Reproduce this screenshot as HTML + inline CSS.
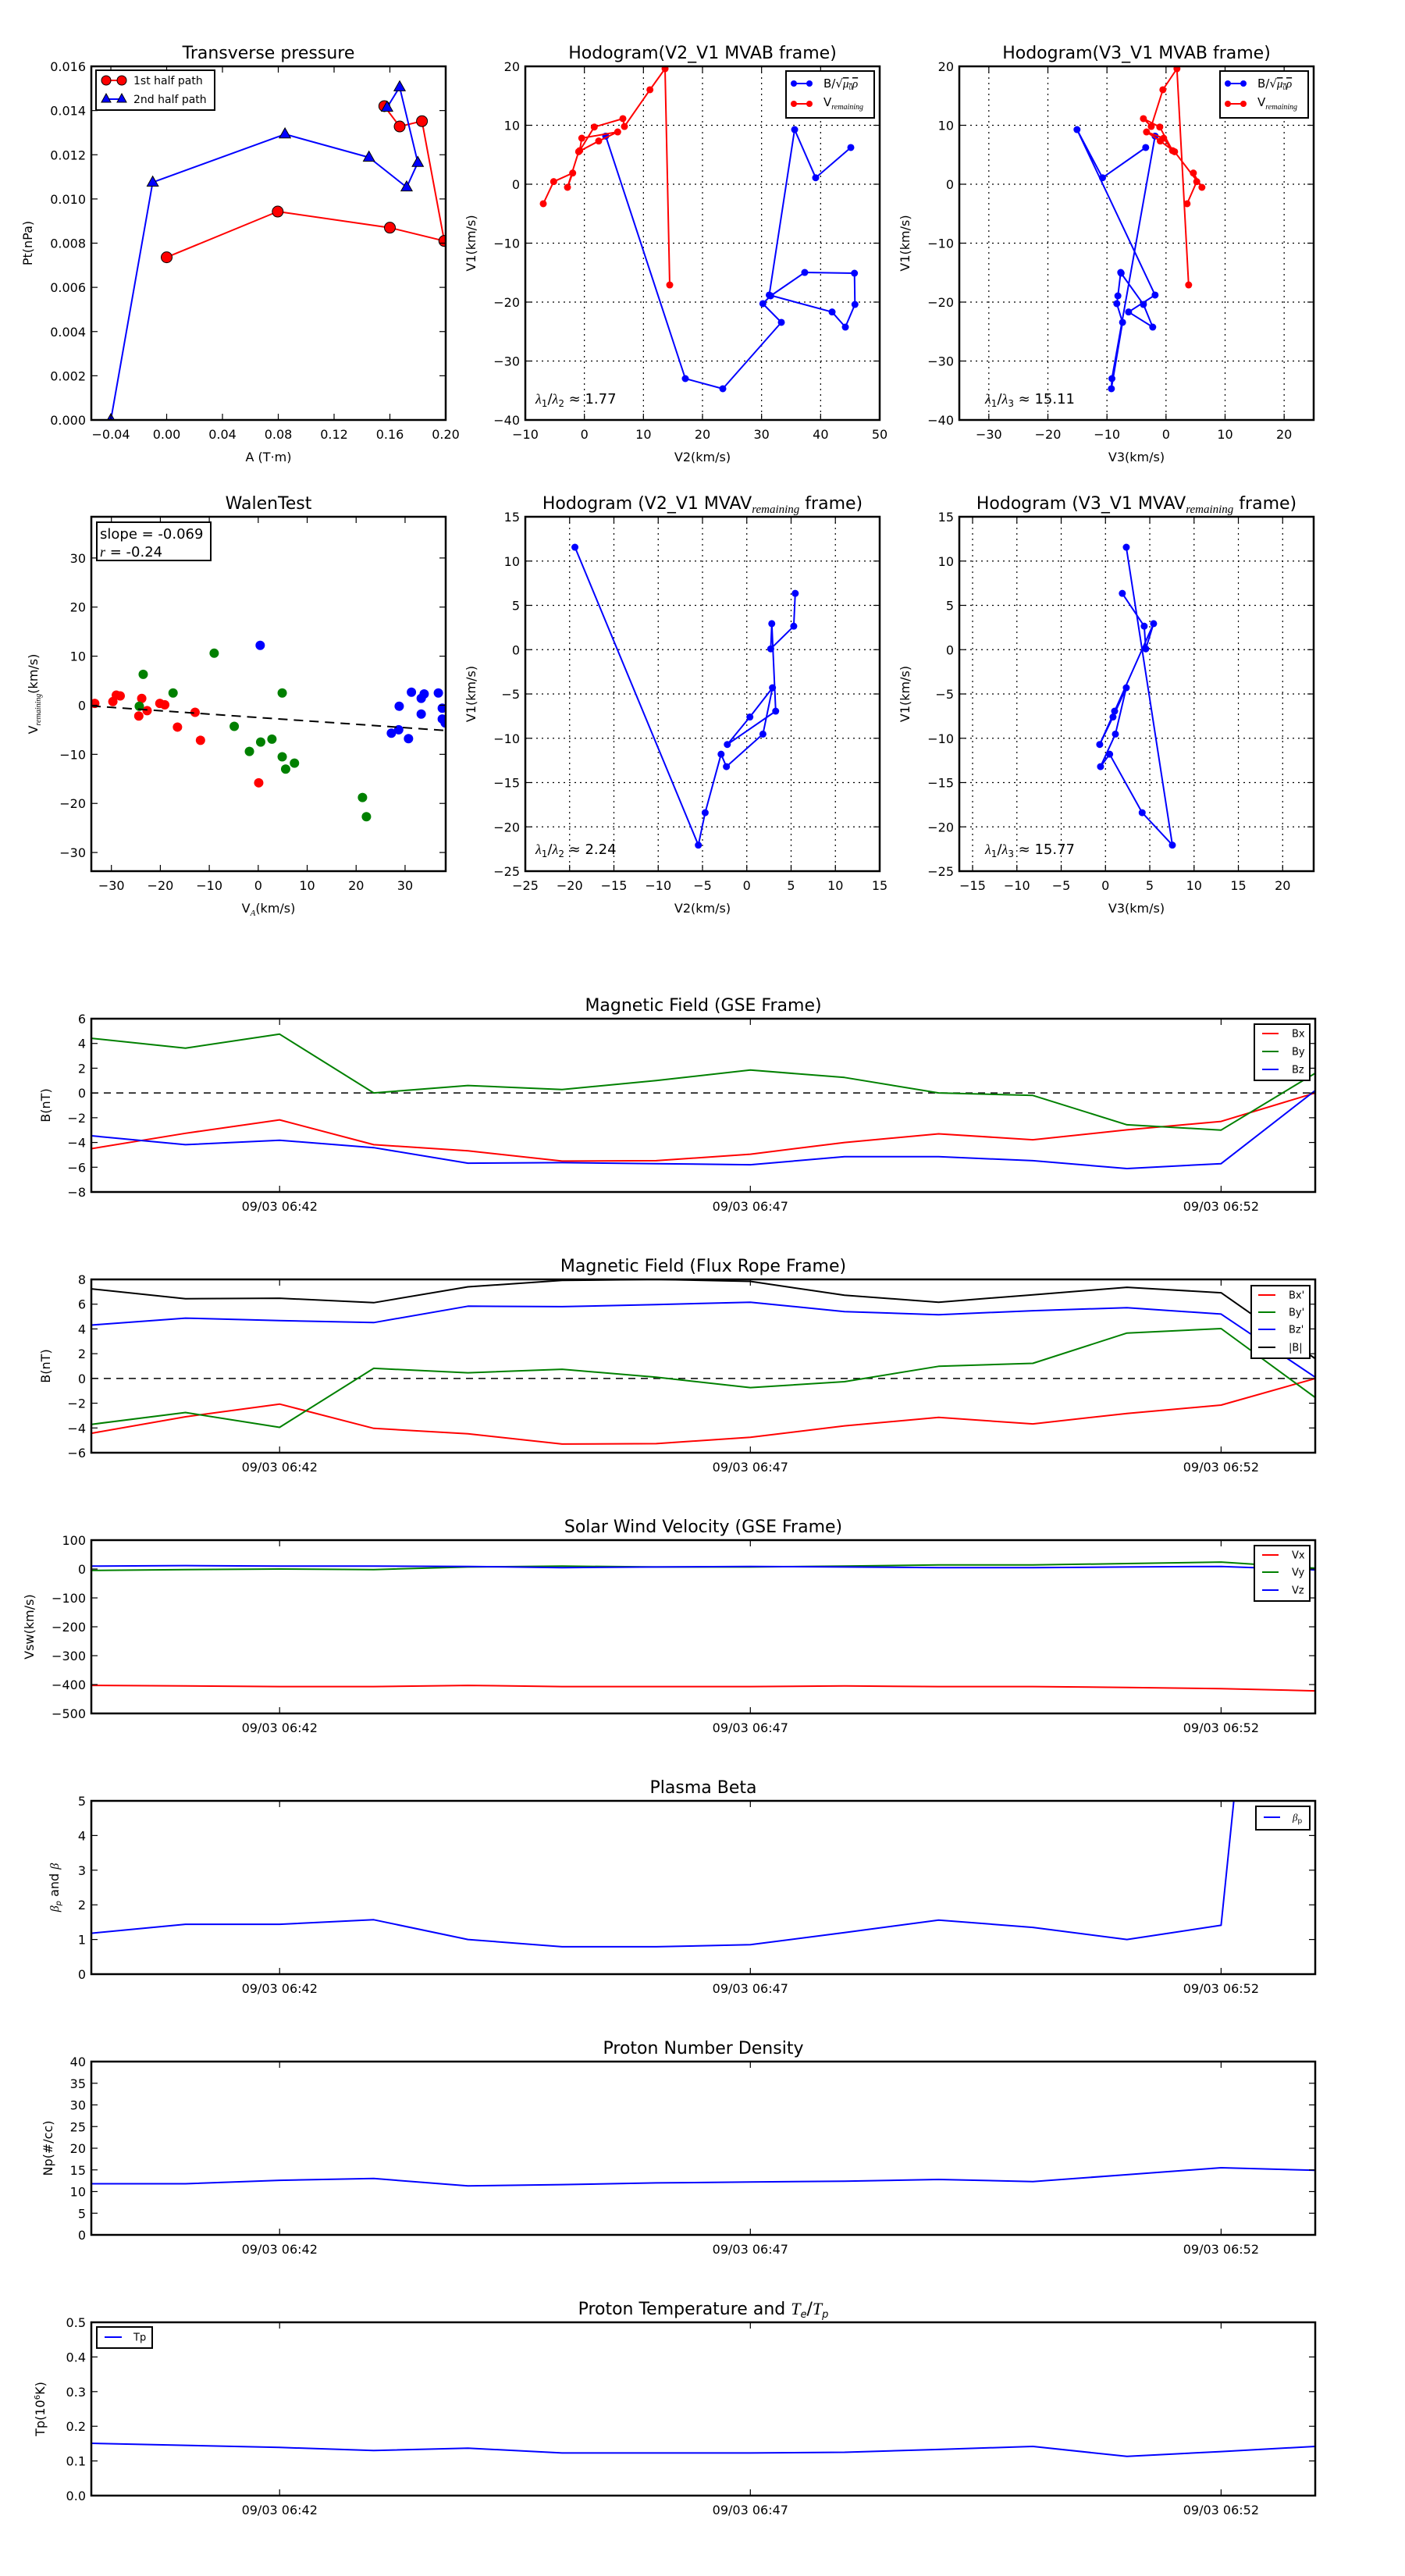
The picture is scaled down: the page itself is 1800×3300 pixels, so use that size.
<!DOCTYPE html>
<html><head><meta charset="utf-8"><title>Flux rope analysis</title>
<style>
html,body{margin:0;padding:0;background:#fff;}
svg{display:block;}
text{font-family:"DejaVu Sans","Liberation Sans",sans-serif;fill:#000;}
</style></head>
<body>
<svg id="fig" xmlns="http://www.w3.org/2000/svg" width="1800" height="3300" viewBox="0 0 1800 3300">
<rect x="0" y="0" width="1800" height="3300" fill="#fff"/>
</svg>
<script>
// ---------- Data ----------
// Transverse pressure
const ptRedA = [0.0, 0.0796, 0.1600, 0.1990, 0.1830, 0.1670, 0.1560];
const ptRedP = [0.00736, 0.00943, 0.00870, 0.00810, 0.01352, 0.01328, 0.01420];
const ptBlueA = [-0.040, -0.010, 0.0848, 0.1450, 0.1720, 0.1800, 0.1670, 0.1580];
const ptBlueP = [0.0, 0.01075, 0.01293, 0.01188, 0.01053, 0.01164, 0.01506, 0.01414];
// Hodogram MVAB
const hbV2 = [3.61, 17.09, 23.44, 33.35, 30.22, 31.54, 37.31, 45.73, 45.81, 44.19, 41.94, 31.3, 35.6, 39.16, 45.11];
const hbV1 = [8.17, -32.98, -34.7, -23.44, -20.26, -18.94, -14.97, -15.1, -20.4, -24.24, -21.68, -18.8, 9.27, 1.1, 6.23];
const hbV3 = [-1.85, -9.16, -9.25, -7.36, -8.33, -8.15, -7.67, -7.6, -3.83, -2.25, -6.34, -1.85, -15.07, -10.75, -3.44];
const hrV2 = [-6.96, -5.2, -1.98, -2.86, -0.97, 2.42, 5.64, -0.44, -0.79, 1.67, 6.52, 6.78, 11.1, 13.66, 14.45];
const hrV1 = [-3.31, 0.44, 1.9, -0.53, 5.52, 7.33, 8.87, 7.81, 5.7, 9.71, 11.13, 9.8, 16.03, 19.6, -17.09];
const hrV3 = [3.57, 5.2, 4.63, 6.08, 1.45, -0.97, -3.3, -0.4, 1.1, -1.06, -3.83, -2.5, -0.53, 1.85, 3.83];
// Walen test
const wRedX = [-33.4, -29.7, -29.0, -28.2, -23.8, -24.4, -22.7, -20.1, -19.1, -16.5, -12.9, -11.8, 0.1];
const wRedY = [0.37, 0.74, 2.07, 1.9, 1.38, -2.2, -1.1, 0.37, 0.1, -4.45, -1.43, -7.15, -15.8];
const wGreenX = [-23.5, -24.3, -17.4, -9.0, -4.9, -1.8, 0.5, 2.8, 4.9, 4.9, 5.6, 7.4, 21.3, 22.1];
const wGreenY = [6.3, -0.2, 2.5, 10.6, -4.3, -9.4, -7.5, -6.9, 2.5, -10.5, -13.0, -11.8, -18.8, -22.7];
const wBlueX = [0.4, 27.2, 28.7, 28.8, 30.7, 31.3, 33.3, 33.3, 33.9, 36.8, 37.6, 37.6, 38.2];
const wBlueY = [12.2, -5.7, -5.0, -0.2, -6.8, 2.65, 1.4, -1.8, 2.3, 2.5, -0.6, -2.8, -3.6];
const wSlope = -0.069;
const wIntercept = -2.5;
// Hodogram MVAV
const mvV2 = [-19.4, -5.47, -4.7, -2.9, -2.3, 1.82, 2.9, 0.35, -2.2, 3.26, 2.82, 2.7, 5.3, 5.47];
const mvV1 = [11.56, -22.06, -18.4, -11.8, -13.2, -9.53, -4.3, -7.6, -10.7, -6.94, 2.94, 0.09, 2.65, 6.35];
const mvV3 = [2.35, 7.55, 4.14, 0.47, -0.56, 1.12, 2.35, 0.85, -0.65, 1.03, 5.43, 4.55, 4.37, 1.9];
// Time series (minutes after 06:40)
const tMin = [0,1,2,3,4,5,6,7,8,9,10,11,12,13];
const timeTickPos = [2, 7, 12];
const timeTickLabels = ["09/03 06:42", "09/03 06:47", "09/03 06:52"];
const gseBx = [-4.5,-3.26,-2.17,-4.18,-4.67,-5.5,-5.47,-4.95,-4.0,-3.3,-3.78,-2.98,-2.3,0.0];
const gseBy = [4.42,3.62,4.75,0.0,0.6,0.28,1.0,1.85,1.25,0.0,-0.2,-2.57,-3.0,1.6];
const gseBz = [-3.46,-4.18,-3.82,-4.42,-5.67,-5.63,-5.71,-5.8,-5.15,-5.15,-5.47,-6.11,-5.71,0.2];
const frBx = [-4.43,-3.1,-2.07,-4.03,-4.47,-5.3,-5.27,-4.75,-3.83,-3.15,-3.67,-2.83,-2.15,0.0];
const frBy = [-3.71,-2.75,-3.95,0.82,0.46,0.74,0.1,-0.74,-0.26,0.98,1.22,3.67,4.03,-1.54];
const frBz = [4.31,4.87,4.67,4.51,5.84,5.8,5.96,6.16,5.4,5.15,5.47,5.72,5.2,0.1];
const frBt = [7.24,6.44,6.48,6.12,7.4,7.92,8.0,7.84,6.72,6.16,6.76,7.36,6.92,1.6];
const swVx = [-403,-405,-407,-407,-403,-407,-407,-407,-405,-407,-407,-410,-414,-422];
const swVy = [-5,-2,0,-2,7,10,7,7,10,14,14,19,24,3];
const swVz = [10,12,10,10,9,5,7,9,7,5,5,7,9,-3];
const betaP = [1.18,1.44,1.44,1.57,1.0,0.79,0.79,0.85,1.2,1.56,1.35,1.0,1.41,28];
const densNp = [11.8,11.8,12.6,13.0,11.3,11.6,12.0,12.2,12.4,12.8,12.3,13.9,15.5,14.9];
const tempTp = [0.151,0.145,0.139,0.130,0.137,0.123,0.123,0.123,0.125,0.133,0.142,0.113,0.127,0.142];

// ---------- Helpers ----------
const NS = "http://www.w3.org/2000/svg";
const fig = document.getElementById("fig");
const MINUS = "\u2212";
let clipId = 0;
function mk(tag, name, attrs, parent) {
  const el = document.createElementNS(NS, tag);
  
  
  for (const k in attrs) el.setAttribute(k, attrs[k]);
  (parent || fig).appendChild(el);
  return el;
}
function fmt(v, d) { const s = Math.abs(v).toFixed(d); return (v < 0 && parseFloat(s) !== 0 ? MINUS : "") + s; }
function range(a, b, s) { const r = []; for (let v = a; v <= b + s * 1e-6; v += s) r.push(+v.toFixed(6)); return r; }

function axes(cfg) {
  const g = mk("g", cfg.name, {}, fig);
  const sx = v => cfg.x0 + (v - cfg.xmin) / (cfg.xmax - cfg.xmin) * (cfg.x1 - cfg.x0);
  const sy = v => cfg.y1 - (v - cfg.ymin) / (cfg.ymax - cfg.ymin) * (cfg.y1 - cfg.y0);
  const id = "clip" + (clipId++);
  const cp = mk("clipPath", "plot-clip", { id: id }, g);
  mk("rect", "clip-rect", { x: cfg.x0, y: cfg.y0, width: cfg.x1 - cfg.x0, height: cfg.y1 - cfg.y0 }, cp);
  mk("rect", "plot-area", { x: cfg.x0, y: cfg.y0, width: cfg.x1 - cfg.x0, height: cfg.y1 - cfg.y0, fill: "#fff" }, g);
  const grid = mk("g", "grid", {}, g);
  const data = mk("g", "plot-data", { "clip-path": "url(#" + id + ")" }, g);
  const tk = mk("g", "ticks", {}, g);
  // x ticks
  cfg.xticks.forEach((v, i) => {
    const x = sx(v);
    if (cfg.grid && x > cfg.x0 + 1 && x < cfg.x1 - 1) mk("line", "x-grid-line", { x1: x, x2: x, y1: cfg.y0, y2: cfg.y1, stroke: "#000", "stroke-width": 1.2, "stroke-dasharray": "2,5" }, grid);
    mk("line", "x-tick", { x1: x, x2: x, y1: cfg.y1, y2: cfg.y1 - 8, stroke: "#000", "stroke-width": 1.2 }, tk);
    mk("line", "x-tick-top", { x1: x, x2: x, y1: cfg.y0, y2: cfg.y0 + 8, stroke: "#000", "stroke-width": 1.2 }, tk);
    const t = mk("text", "x-tick-label", { x: x, y: cfg.y1 + 24, "font-size": 16, "text-anchor": "middle" }, tk);
    t.textContent = cfg.xlabels ? cfg.xlabels[i] : fmt(v, cfg.xdec || 0);
  });
  cfg.yticks.forEach(v => {
    const y = sy(v);
    if (cfg.grid && y > cfg.y0 + 1 && y < cfg.y1 - 1) mk("line", "y-grid-line", { x1: cfg.x0, x2: cfg.x1, y1: y, y2: y, stroke: "#000", "stroke-width": 1.2, "stroke-dasharray": "2,5" }, grid);
    mk("line", "y-tick", { x1: cfg.x0, x2: cfg.x0 + 8, y1: y, y2: y, stroke: "#000", "stroke-width": 1.2 }, tk);
    mk("line", "y-tick-right", { x1: cfg.x1, x2: cfg.x1 - 8, y1: y, y2: y, stroke: "#000", "stroke-width": 1.2 }, tk);
    const t = mk("text", "y-tick-label", { x: cfg.x0 - 7, y: y + 6, "font-size": 16, "text-anchor": "end" }, tk);
    t.textContent = fmt(v, cfg.ydec || 0);
  });
  mk("rect", "axes-frame", { x: cfg.x0, y: cfg.y0, width: cfg.x1 - cfg.x0, height: cfg.y1 - cfg.y0, fill: "none", stroke: "#000", "stroke-width": 2.5 }, g);
  const tt = mk("text", "chart-title", { x: (cfg.x0 + cfg.x1) / 2, y: cfg.y0 - 10, "font-size": 22, "text-anchor": "middle" }, g);
  tt.innerHTML = cfg.title;
  if (cfg.xlabel) { const t = mk("text", "x-axis-title", { x: (cfg.x0 + cfg.x1) / 2, y: cfg.y1 + 53, "font-size": 16, "text-anchor": "middle" }, g); t.innerHTML = cfg.xlabel; }
  if (cfg.ylabel) { const yc = (cfg.y0 + cfg.y1) / 2; const t = mk("text", "y-axis-title", { x: cfg.ylx, y: yc, "font-size": 16, "text-anchor": "middle", transform: "rotate(-90 " + cfg.ylx + " " + yc + ")" }, g); t.innerHTML = cfg.ylabel; }
  return { g, data, sx, sy, cfg };
}
function line(ax, xs, ys, color, name, w) {
  const pts = xs.map((x, i) => ax.sx(x).toFixed(1) + "," + ax.sy(ys[i]).toFixed(1)).join(" ");
  return mk("polyline", name, { points: pts, fill: "none", stroke: color, "stroke-width": w || 2, "stroke-linejoin": "round" }, ax.data);
}
function dots(ax, xs, ys, color, name, r, edge) {
  xs.forEach((x, i) => {
    const c = mk("circle", name, { cx: ax.sx(x), cy: ax.sy(ys[i]), r: r, fill: color }, ax.data);
    if (edge) { c.setAttribute("stroke", "#000"); c.setAttribute("stroke-width", 1); }
  });
}
function tris(ax, xs, ys, color, name, s) {
  xs.forEach((x, i) => {
    const cx = ax.sx(x), cy = ax.sy(ys[i]);
    mk("polygon", name, { points: `${cx},${cy - s} ${cx - s * 0.9},${cy + s * 0.6} ${cx + s * 0.9},${cy + s * 0.6}`, fill: color, stroke: "#000", "stroke-width": 1 }, ax.data);
  });
}
function legendBox(x, y, w, h, name) {
  const g = mk("g", name, {}, fig);
  mk("rect", "legend-frame", { x: x, y: y, width: w, height: h, fill: "#fff", stroke: "#000", "stroke-width": 2 }, g);
  return g;
}
function legendLine(g, x1, x2, y, color, label, tx, fs, name) {
  const e = mk("g", name, {}, g);
  mk("line", "legend-swatch", { x1: x1, x2: x2, y1: y, y2: y, stroke: color, "stroke-width": 2 }, e);
  const t = mk("text", "legend-label", { x: tx, y: y + fs * 0.36, "font-size": fs }, e);
  t.innerHTML = label;
  return e;
}
const VREM = 'V<tspan font-size="10" font-style="italic" font-family="Liberation Serif,serif" dy="4">remaining</tspan>';
const BMU = 'B/√<tspan text-decoration="overline" font-style="italic" font-family="Liberation Serif,serif">μ<tspan font-size="9" dy="3">0</tspan><tspan dy="-3">ρ</tspan></tspan>';

// ---------- Row 1 ----------
const TOP0 = 85, TOP1 = 538, R2T = 662, R2B = 1116;
const a1 = axes({ name: "transverse-pressure-chart", x0: 117, x1: 571, y0: TOP0, y1: TOP1, xmin: -0.054, xmax: 0.20, ymin: 0, ymax: 0.016,
  xticks: range(-0.04, 0.20, 0.04), xdec: 2, yticks: range(0, 0.016, 0.002), ydec: 3,
  title: "Transverse pressure", xlabel: "A (T·m)", ylabel: "Pt(nPa)", ylx: 41 });
line(a1, ptRedA, ptRedP, "#f00", "first-half-line", 2);
line(a1, ptBlueA, ptBlueP, "#00f", "second-half-line", 2);
dots(a1, ptRedA, ptRedP, "#f00", "first-half-marker", 7, true);
tris(a1, ptBlueA, ptBlueP, "#00f", "second-half-marker", 8);
{
  const g = legendBox(123, 90, 152, 51, "pressure-legend");
  const e1 = mk("g", "legend-entry-first-half", {}, g);
  mk("line", "legend-swatch", { x1: 136, x2: 156, y1: 103, y2: 103, stroke: "#f00", "stroke-width": 2 }, e1);
  mk("circle", "legend-marker", { cx: 136, cy: 103, r: 6, fill: "#f00", stroke: "#000" }, e1);
  mk("circle", "legend-marker", { cx: 156, cy: 103, r: 6, fill: "#f00", stroke: "#000" }, e1);
  const t1 = mk("text", "legend-label", { x: 171, y: 108, "font-size": 14 }, e1); t1.textContent = "1st half path";
  const e2 = mk("g", "legend-entry-second-half", {}, g);
  mk("line", "legend-swatch", { x1: 136, x2: 156, y1: 127, y2: 127, stroke: "#00f", "stroke-width": 2 }, e2);
  mk("polygon", "legend-marker", { points: "136,120 130,131 142,131", fill: "#00f", stroke: "#000" }, e2);
  mk("polygon", "legend-marker", { points: "156,120 150,131 162,131", fill: "#00f", stroke: "#000" }, e2);
  const t2 = mk("text", "legend-label", { x: 171, y: 132, "font-size": 14 }, e2); t2.textContent = "2nd half path";
}

function hodoLegend(x, name) {
  const g = legendBox(x, 91, 113, 60, name);
  const e1 = mk("g", "legend-entry-b", {}, g);
  mk("line", "legend-swatch", { x1: x + 10, x2: x + 30, y1: 107, y2: 107, stroke: "#00f", "stroke-width": 2 }, e1);
  mk("circle", "legend-marker", { cx: x + 10, cy: 107, r: 4, fill: "#00f" }, e1);
  mk("circle", "legend-marker", { cx: x + 30, cy: 107, r: 4, fill: "#00f" }, e1);
  const t1 = mk("text", "legend-label", { x: x + 48, y: 112, "font-size": 15 }, e1); t1.innerHTML = BMU;
  const e2 = mk("g", "legend-entry-v", {}, g);
  mk("line", "legend-swatch", { x1: x + 10, x2: x + 30, y1: 133, y2: 133, stroke: "#f00", "stroke-width": 2 }, e2);
  mk("circle", "legend-marker", { cx: x + 10, cy: 133, r: 4, fill: "#f00" }, e2);
  mk("circle", "legend-marker", { cx: x + 30, cy: 133, r: 4, fill: "#f00" }, e2);
  const t2 = mk("text", "legend-label", { x: x + 48, y: 136, "font-size": 15 }, e2); t2.innerHTML = VREM;
}
function lambdaNote(x, y, sub, val) {
  const t = mk("text", "eigenvalue-ratio", { x: x, y: y, "font-size": 18 }, fig);
  t.innerHTML = '<tspan font-style="italic" font-family="Liberation Serif,serif">λ</tspan><tspan font-size="12" dy="4">1</tspan><tspan dy="-4">/</tspan><tspan font-style="italic" font-family="Liberation Serif,serif">λ</tspan><tspan font-size="12" dy="4">' + sub + '</tspan><tspan dy="-4"> ≈ ' + val + '</tspan>';
}

const a2 = axes({ name: "hodogram-v2-v1-mvab", x0: 673, x1: 1127, y0: TOP0, y1: TOP1, xmin: -10, xmax: 50, ymin: -40, ymax: 20,
  xticks: range(-10, 50, 10), yticks: range(-40, 20, 10), grid: true,
  title: "Hodogram(V2_V1 MVAB frame)", xlabel: "V2(km/s)", ylabel: "V1(km/s)", ylx: 609 });
line(a2, hbV2, hbV1, "#00f", "b-hodogram-line");
dots(a2, hbV2, hbV1, "#00f", "b-hodogram-point", 4.5);
line(a2, hrV2, hrV1, "#f00", "v-hodogram-line");
dots(a2, hrV2, hrV1, "#f00", "v-hodogram-point", 4.5);
hodoLegend(1007, "hodogram-legend-mvab-v2");
lambdaNote(686, 517, "2", "1.77");

const a3 = axes({ name: "hodogram-v3-v1-mvab", x0: 1229, x1: 1683, y0: TOP0, y1: TOP1, xmin: -35, xmax: 25, ymin: -40, ymax: 20,
  xticks: range(-30, 20, 10), yticks: range(-40, 20, 10), grid: true,
  title: "Hodogram(V3_V1 MVAB frame)", xlabel: "V3(km/s)", ylabel: "V1(km/s)", ylx: 1165 });
line(a3, hbV3, hbV1, "#00f", "b-hodogram-line");
dots(a3, hbV3, hbV1, "#00f", "b-hodogram-point", 4.5);
line(a3, hrV3, hrV1, "#f00", "v-hodogram-line");
dots(a3, hrV3, hrV1, "#f00", "v-hodogram-point", 4.5);
hodoLegend(1563, "hodogram-legend-mvab-v3");
lambdaNote(1262, 517, "3", "15.11");

// ---------- Row 2 ----------
const a4 = axes({ name: "walen-test-chart", x0: 117, x1: 571, y0: R2T, y1: R2B, xmin: -34.1, xmax: 38.3, ymin: -33.8, ymax: 38.4,
  xticks: range(-30, 30, 10), yticks: range(-30, 30, 10),
  title: "WalenTest", xlabel: 'V<tspan font-size="11" font-style="italic" font-family="Liberation Serif,serif" dy="4">A</tspan><tspan dy="-4">(km/s)</tspan>',
  ylabel: VREM + '<tspan dy="-4">(km/s)</tspan>', ylx: 48 });
dots(a4, wRedX, wRedY, "#f00", "walen-point-red", 6);
dots(a4, wGreenX, wGreenY, "#008000", "walen-point-green", 6);
dots(a4, wBlueX, wBlueY, "#00f", "walen-point-blue", 6);
{
  const xs = [a4.cfg.xmin, a4.cfg.xmax];
  mk("line", "walen-fit-line", { x1: a4.sx(xs[0]), y1: a4.sy(wSlope * xs[0] + wIntercept), x2: a4.sx(xs[1]), y2: a4.sy(wSlope * xs[1] + wIntercept), stroke: "#000", "stroke-width": 2, "stroke-dasharray": "12,8" }, a4.data);
  const g = legendBox(124, 669, 146, 49, "walen-stats-box");
  const t1 = mk("text", "slope-text", { x: 128, y: 690, "font-size": 18 }, g); t1.textContent = "slope = -0.069";
  const t2 = mk("text", "r-text", { x: 128, y: 713, "font-size": 18 }, g);
  t2.innerHTML = '<tspan font-style="italic" font-family="Liberation Serif,serif">r</tspan> = -0.24';
}

const a5 = axes({ name: "hodogram-v2-v1-mvav", x0: 673, x1: 1127, y0: R2T, y1: R2B, xmin: -25, xmax: 15, ymin: -25, ymax: 15,
  xticks: range(-25, 15, 5), yticks: range(-25, 15, 5), grid: true,
  title: 'Hodogram (V2_V1 MVAV<tspan font-size="15" font-style="italic" font-family="Liberation Serif,serif" dy="5">remaining</tspan><tspan dy="-5"> frame)</tspan>',
  xlabel: "V2(km/s)", ylabel: "V1(km/s)", ylx: 609 });
line(a5, mvV2, mvV1, "#00f", "mvav-hodogram-line");
dots(a5, mvV2, mvV1, "#00f", "mvav-hodogram-point", 4.5);
lambdaNote(686, 1094, "2", "2.24");

const a6 = axes({ name: "hodogram-v3-v1-mvav", x0: 1229, x1: 1683, y0: R2T, y1: R2B, xmin: -16.5, xmax: 23.5, ymin: -25, ymax: 15,
  xticks: range(-15, 20, 5), yticks: range(-25, 15, 5), grid: true,
  title: 'Hodogram (V3_V1 MVAV<tspan font-size="15" font-style="italic" font-family="Liberation Serif,serif" dy="5">remaining</tspan><tspan dy="-5"> frame)</tspan>',
  xlabel: "V3(km/s)", ylabel: "V1(km/s)", ylx: 1165 });
line(a6, mvV3, mvV1, "#00f", "mvav-hodogram-line");
dots(a6, mvV3, mvV1, "#00f", "mvav-hodogram-point", 4.5);
lambdaNote(1262, 1094, "3", "15.77");

// ---------- Time series ----------
function tsAxes(name, y0, ymin, ymax, yticks, ydec, title, ylabel, ylx) {
  return axes({ name: name, x0: 117, x1: 1685, y0: y0, y1: y0 + 222, xmin: 0, xmax: 13, ymin: ymin, ymax: ymax,
    xticks: timeTickPos, xlabels: timeTickLabels, yticks: yticks, ydec: ydec, title: title, ylabel: ylabel, ylx: ylx });
}
function zeroLine(ax) {
  mk("line", "zero-reference-line", { x1: ax.cfg.x0, x2: ax.cfg.x1, y1: ax.sy(0), y2: ax.sy(0), stroke: "#000", "stroke-width": 1.5, "stroke-dasharray": "9,7" }, ax.data);
}
const p1 = tsAxes("gse-magnetic-field-chart", 1305, -8, 6, range(-8, 6, 2), 0, "Magnetic Field (GSE Frame)", "B(nT)", 64);
zeroLine(p1);
line(p1, tMin, gseBx, "#f00", "bx-line");
line(p1, tMin, gseBy, "#008000", "by-line");
line(p1, tMin, gseBz, "#00f", "bz-line");
{ const g = legendBox(1607, 1312, 71, 72, "gse-legend");
  legendLine(g, 1617, 1638, 1324, "#f00", "Bx", 1655, 13, "legend-entry-bx");
  legendLine(g, 1617, 1638, 1347, "#008000", "By", 1655, 13, "legend-entry-by");
  legendLine(g, 1617, 1638, 1370, "#00f", "Bz", 1655, 13, "legend-entry-bz"); }

const p2 = tsAxes("flux-rope-magnetic-field-chart", 1639, -6, 8, range(-6, 8, 2), 0, "Magnetic Field (Flux Rope Frame)", "B(nT)", 64);
zeroLine(p2);
line(p2, tMin, frBx, "#f00", "bx-prime-line");
line(p2, tMin, frBy, "#008000", "by-prime-line");
line(p2, tMin, frBz, "#00f", "bz-prime-line");
line(p2, tMin, frBt, "#000", "b-magnitude-line");
{ const g = legendBox(1603, 1647, 75, 93, "flux-rope-legend");
  legendLine(g, 1612, 1634, 1659, "#f00", "Bx'", 1651, 13, "legend-entry-bx-prime");
  legendLine(g, 1612, 1634, 1681, "#008000", "By'", 1651, 13, "legend-entry-by-prime");
  legendLine(g, 1612, 1634, 1703, "#00f", "Bz'", 1651, 13, "legend-entry-bz-prime");
  legendLine(g, 1612, 1634, 1726, "#000", "|B|", 1651, 13, "legend-entry-b-magnitude"); }

const p3 = tsAxes("solar-wind-velocity-chart", 1973, -500, 100, range(-500, 100, 100), 0, "Solar Wind Velocity (GSE Frame)", "Vsw(km/s)", 43);
line(p3, tMin, swVx, "#f00", "vx-line");
line(p3, tMin, swVy, "#008000", "vy-line");
line(p3, tMin, swVz, "#00f", "vz-line");
{ const g = legendBox(1607, 1980, 71, 71, "velocity-legend");
  legendLine(g, 1617, 1638, 1992, "#f00", "Vx", 1655, 13, "legend-entry-vx");
  legendLine(g, 1617, 1638, 2014, "#008000", "Vy", 1655, 13, "legend-entry-vy");
  legendLine(g, 1617, 1638, 2037, "#00f", "Vz", 1655, 13, "legend-entry-vz"); }

const p4 = tsAxes("plasma-beta-chart", 2307, 0, 5, range(0, 5, 1), 0, "Plasma Beta",
  '<tspan font-style="italic" font-family="Liberation Serif,serif">β</tspan><tspan font-size="10" font-style="italic" dy="3">p</tspan><tspan dy="-3"> and </tspan><tspan font-style="italic" font-family="Liberation Serif,serif">β</tspan>', 75);
line(p4, tMin, betaP, "#00f", "beta-p-line");
{ const g = legendBox(1609, 2314, 69, 30, "beta-legend");
  legendLine(g, 1619, 1640, 2328, "#00f", '<tspan font-style="italic" font-family="Liberation Serif,serif">β</tspan><tspan font-size="9" dy="3">p</tspan>', 1656, 13, "legend-entry-beta-p"); }

const p5 = tsAxes("proton-density-chart", 2641, 0, 40, range(0, 40, 5), 0, "Proton Number Density", "Np(#/cc)", 67);
line(p5, tMin, densNp, "#00f", "np-line");

const p6 = tsAxes("proton-temperature-chart", 2975, 0, 0.5, range(0, 0.5, 0.1), 1,
  'Proton Temperature and <tspan font-style="italic" font-family="Liberation Serif,serif">T</tspan><tspan font-size="13" font-style="italic" dy="4">e</tspan><tspan dy="-4">/</tspan><tspan font-style="italic" font-family="Liberation Serif,serif">T</tspan><tspan font-size="13" font-style="italic" dy="4">p</tspan>',
  'Tp(10<tspan font-size="10" dy="-6">6</tspan><tspan dy="6">K)</tspan>', 57);
line(p6, tMin, tempTp, "#00f", "tp-line");
{ const g = legendBox(124, 2981, 71, 27, "temperature-legend");
  legendLine(g, 134, 156, 2994, "#00f", "Tp", 171, 13, "legend-entry-tp"); }
</script>
</body></html>
